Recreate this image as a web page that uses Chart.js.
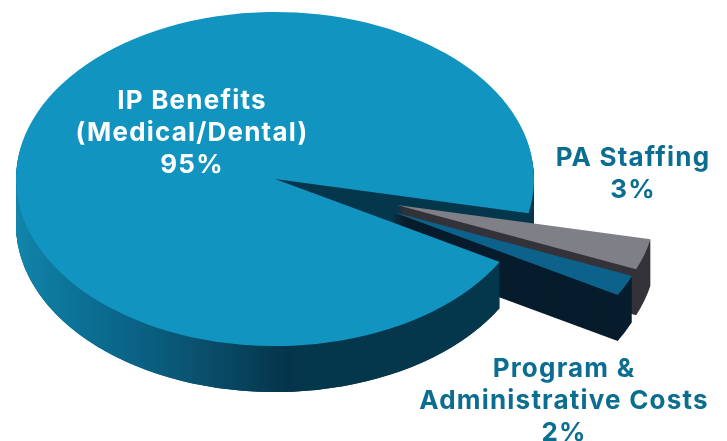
<!DOCTYPE html>
<html>
<head>
<meta charset="utf-8">
<title>Spending breakdown</title>
<script src="https://cdn.jsdelivr.net/npm/chart.js@4"></script>
<style>
  html, body { margin: 0; background: #fff; }
  canvas { display: block; }
</style>
</head>
<body>
<canvas id="pie" width="727" height="441"></canvas>
<script>
// clockwise from the notch, so the big slice paints last
const categories = ['PA Staffing', 'Program & Administrative Costs', 'IP Benefits'];
const shares = [3, 2, 95];
const labelLines = [['PA Staffing'], ['Program &', 'Administrative Costs'], ['IP Benefits', '(Medical/Dental)']];
const topColors = ['#7f7f87', '#0d628c', '#1194c0'];
const wallColors = ['#35333a', '#071d2d', null];
const textColors = ['#0b6d90', '#0b6d90', '#ffffff'];

const SQUASH = 0.645;    // vertical scale of the disc
const DEPTH = 46;        // wall height in px
const PULL = [128.5, 128.5, 0];
const PULL_DIR = [18.3, 23.4, 0];  // degrees, clockwise from the x axis
const LABEL_POS = [
  { x: 633, y: 166 },
  { x: 564, y: 377 },
  { x: 192, y: 109 }
];

function applySquash(ctx, cy) {
  ctx.translate(0, cy);
  ctx.scale(1, SQUASH);
  ctx.translate(0, -cy);
}

// stack copies of a sector downward to make its side wall
function extrude(ctx, arc, from, to, cy) {
  for (let dy = DEPTH; dy >= 1; dy--) {
    ctx.save();
    ctx.translate(0, dy);
    applySquash(ctx, cy);
    ctx.beginPath();
    ctx.moveTo(arc.x, arc.y);
    ctx.arc(arc.x, arc.y, arc.outerRadius, from, to);
    ctx.closePath();
    ctx.restore();
    ctx.fill();
  }
}

const disc3d = {
  id: 'disc3d',
  afterDatasetsUpdate(chart) {
    chart.getDatasetMeta(0).data.forEach((arc, i) => {
      const dir = PULL_DIR[i] * Math.PI / 180;
      arc.x += Math.cos(dir) * PULL[i];
      arc.y += Math.sin(dir) * PULL[i];
    });
  },
  beforeDatasetsDraw(chart) {
    const ctx = chart.ctx;
    const area = chart.chartArea;
    const cy = (area.top + area.bottom) / 2;
    const arcs = chart.getDatasetMeta(0).data;
    const big = arcs[2];

    const shade = ctx.createLinearGradient(15, 0, 300, 0);
    shade.addColorStop(0, '#1385ab');
    shade.addColorStop(0.16, '#0d769b');
    shade.addColorStop(0.4, '#0a6488');
    shade.addColorStop(0.65, '#0a506d');
    shade.addColorStop(0.96, '#04344a');
    shade.addColorStop(1, '#04364c');

    // far cut face sits behind the pulled slices, the front wall in front of them
    ctx.fillStyle = shade;
    extrude(ctx, big, big.startAngle, big.endAngle, cy);
    [0, 1].forEach(i => {
      ctx.fillStyle = wallColors[i];
      extrude(ctx, arcs[i], arcs[i].startAngle, arcs[i].endAngle, cy);
    });
    ctx.fillStyle = shade;
    extrude(ctx, big, big.startAngle, big.startAngle + Math.PI * 0.9, cy);

    ctx.save();
    applySquash(ctx, cy);
  },
  afterDatasetsDraw(chart) {
    const ctx = chart.ctx;
    ctx.restore();

    ctx.save();
    ctx.font = '700 26px Inter';
    ctx.letterSpacing = '1.2px';
    ctx.textAlign = 'center';
    ctx.textBaseline = 'alphabetic';
    labelLines.forEach((lines, i) => {
      ctx.fillStyle = textColors[i];
      const rows = lines.concat(shares[i] + '%');
      rows.forEach((row, r) => {
        ctx.fillText(row, LABEL_POS[i].x, LABEL_POS[i].y + r * 32);
      });
    });
    ctx.restore();
  }
};

new Chart(document.getElementById('pie'), {
  type: 'pie',
  plugins: [disc3d],
  data: {
    labels: categories,
    datasets: [{
      data: shares,
      backgroundColor: topColors,
      borderWidth: 0,
      clip: false
    }]
  },
  options: {
    responsive: false,
    animation: false,
    events: [],
    rotation: 101.8,
    radius: 259,
    layout: { padding: { right: 177, bottom: 83 } },
    plugins: {
      legend: { display: false },
      tooltip: { enabled: false }
    }
  }
});
</script>
</body>
</html>
